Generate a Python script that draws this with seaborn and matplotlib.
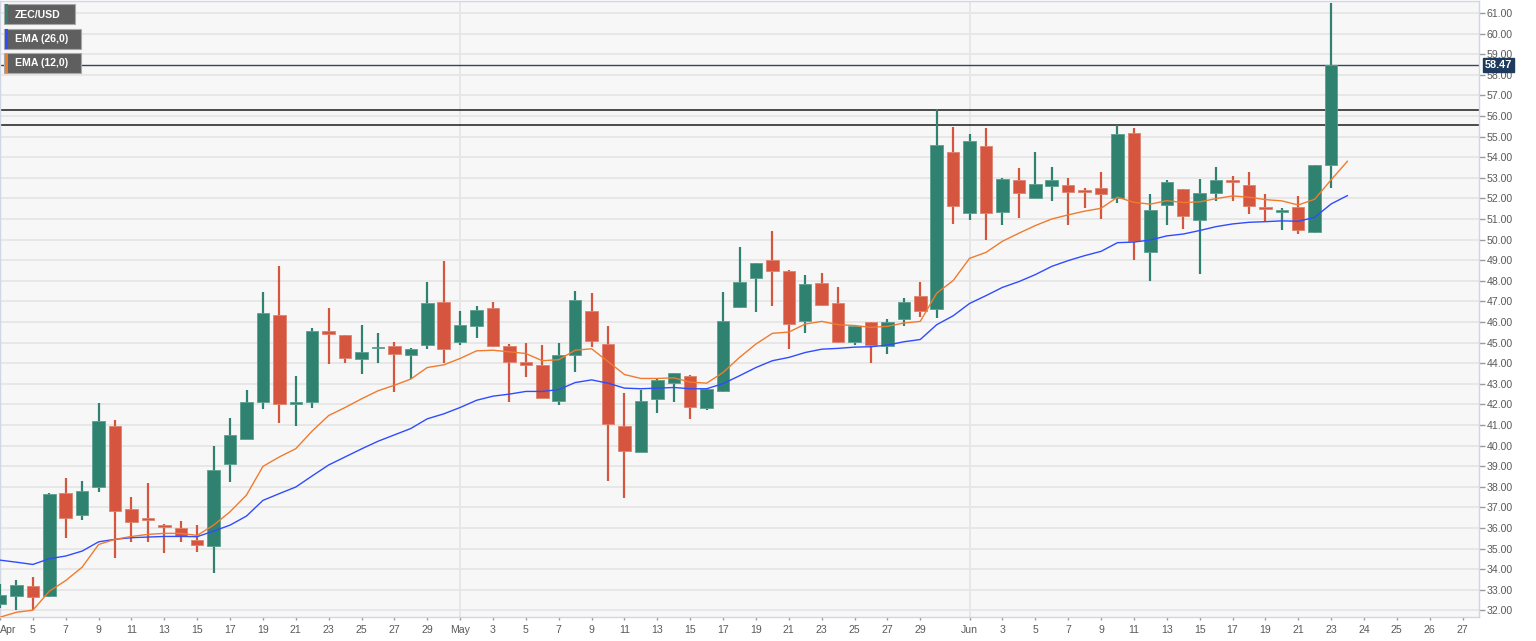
import numpy as np
import pandas as pd
import matplotlib
matplotlib.use("Agg")
import matplotlib.pyplot as plt
from matplotlib.patches import Rectangle
import seaborn as sns

# ---------------- data ----------------
dates = pd.date_range("2020-04-03", "2020-06-23", freq="D").strftime("%b %d").tolist()

opens = [32.33, 32.71, 33.18, 32.68, 37.68, 36.61, 37.99, 40.96, 36.90, 36.42,
         36.13, 36.00, 35.40, 35.15, 39.09, 40.32, 42.14, 46.33, 42.03, 42.14,
         45.56, 45.35, 44.20, 44.72, 44.83, 44.39, 44.86, 46.98, 45.02, 45.80,
         46.68, 44.85, 44.08, 43.89, 42.17, 44.42, 46.51, 44.93, 40.94, 39.71,
         42.25, 43.03, 43.40, 41.82, 42.63, 46.74, 48.13, 49.00, 48.48, 46.03,
         47.89, 46.92, 45.02, 45.98, 44.85, 46.14, 47.28, 46.63, 54.24, 51.30,
         54.52, 51.36, 52.90, 52.04, 52.59, 52.66, 52.38, 52.49, 52.01, 55.18,
         49.42, 51.70, 52.46, 50.95, 52.27, 52.90, 52.66, 51.60, 51.34, 51.59,
         50.36, 53.63]
highs = [33.29, 33.48, 33.62, 37.70, 38.43, 38.27, 42.06, 41.25, 37.50, 38.17,
         36.21, 36.32, 36.16, 40.00, 41.35, 42.71, 47.44, 48.72, 43.40, 45.69,
         46.70, 45.37, 45.87, 45.48, 45.02, 44.73, 47.96, 48.98, 46.54, 46.79,
         46.95, 44.93, 44.97, 44.89, 44.97, 47.52, 47.39, 45.82, 42.53, 42.71,
         43.27, 43.52, 43.44, 42.82, 47.47, 49.66, 48.88, 50.42, 48.50, 48.30,
         48.39, 47.71, 45.85, 46.00, 46.14, 47.18, 47.96, 56.32, 55.49, 55.14,
         55.40, 53.00, 53.48, 54.23, 53.51, 52.98, 52.51, 53.30, 55.56, 55.40,
         52.22, 52.87, 52.48, 52.95, 53.51, 53.08, 53.26, 52.22, 51.51, 52.12,
         53.63, 61.49]
lows = [32.10, 32.04, 32.03, 32.65, 35.51, 36.37, 37.73, 34.54, 35.33, 35.33,
        34.80, 35.33, 34.85, 33.83, 38.22, 40.30, 41.77, 41.10, 40.97, 41.83,
        43.95, 44.00, 43.47, 44.00, 42.59, 43.22, 44.70, 43.99, 44.88, 45.22,
        44.80, 42.12, 43.31, 42.30, 41.96, 43.56, 44.80, 38.27, 37.47, 39.70,
        41.59, 42.14, 41.28, 41.75, 42.60, 46.70, 46.48, 46.79, 44.67, 45.46,
        46.80, 45.00, 44.88, 44.00, 44.44, 45.79, 46.22, 46.17, 50.76, 50.95,
        50.00, 50.73, 51.03, 52.00, 51.89, 50.73, 51.51, 50.99, 51.76, 48.99,
        47.97, 50.73, 50.50, 48.33, 51.88, 51.88, 51.25, 50.89, 50.47, 50.27,
        50.34, 52.51]
closes = [32.77, 33.21, 32.66, 37.67, 36.48, 37.80, 41.17, 36.82, 36.30, 36.38,
          36.03, 35.59, 35.19, 38.80, 40.50, 42.11, 46.42, 42.04, 42.09, 45.54,
          45.43, 44.23, 44.52, 44.76, 44.47, 44.68, 46.92, 44.67, 45.87, 46.60,
          44.83, 44.08, 43.92, 42.33, 44.38, 47.08, 45.10, 41.04, 39.76, 42.17,
          43.18, 43.50, 41.85, 42.77, 46.03, 47.93, 48.85, 48.49, 45.90, 47.86,
          46.82, 45.02, 45.83, 44.88, 45.98, 46.95, 46.55, 54.60, 51.62, 54.81,
          51.31, 52.92, 52.27, 52.69, 52.87, 52.33, 52.33, 52.22, 55.14, 49.95,
          51.44, 52.79, 51.15, 52.25, 52.88, 52.79, 51.63, 51.50, 51.46, 50.45,
          53.61, 58.47]

ema12 = [31.67, 31.91, 32.01, 32.93, 33.45, 34.10, 35.20, 35.45, 35.59, 35.69,
         35.74, 35.74, 35.64, 36.14, 36.79, 37.60, 38.99, 39.45, 39.85, 40.71,
         41.46, 41.85, 42.27, 42.66, 42.93, 43.23, 43.79, 43.92, 44.23, 44.60,
         44.63, 44.55, 44.47, 44.12, 44.17, 44.63, 44.70, 44.08, 43.45, 43.26,
         43.26, 43.29, 43.08, 43.03, 43.55, 44.28, 44.93, 45.45, 45.51, 45.90,
         46.03, 45.87, 45.83, 45.74, 45.79, 45.95, 46.03, 47.40, 48.01, 49.09,
         49.38, 49.92, 50.31, 50.68, 51.00, 51.20, 51.38, 51.52, 52.06, 51.81,
         51.72, 51.89, 51.80, 51.83, 51.99, 52.12, 52.06, 51.94, 51.88, 51.68,
         51.96, 52.90, 53.81]
ema26 = [34.44, 34.34, 34.23, 34.51, 34.64, 34.88, 35.33, 35.45, 35.53, 35.56,
         35.59, 35.59, 35.58, 35.85, 36.14, 36.58, 37.34, 37.67, 37.99, 38.53,
         39.06, 39.45, 39.84, 40.21, 40.52, 40.83, 41.30, 41.54, 41.85, 42.20,
         42.40, 42.50, 42.63, 42.63, 42.72, 43.06, 43.19, 43.03, 42.79, 42.76,
         42.79, 42.82, 42.76, 42.76, 43.01, 43.39, 43.79, 44.12, 44.28, 44.52,
         44.68, 44.72, 44.78, 44.80, 44.88, 45.04, 45.15, 45.87, 46.30, 46.90,
         47.28, 47.68, 47.96, 48.30, 48.70, 48.98, 49.22, 49.43, 49.85, 49.88,
         49.98, 50.18, 50.27, 50.44, 50.63, 50.76, 50.84, 50.87, 50.91, 50.89,
         51.08, 51.73, 52.14]

level_lines = [56.27, 55.57]
last_price = 58.47

tick_pos = [0, 2, 4, 6, 8, 10, 12, 14, 16, 18, 20, 22, 24, 26,
            28, 30, 32, 34, 36, 38, 40, 42, 44, 46, 48, 50, 52, 54, 56,
            59, 61, 63, 65, 67, 69, 71, 73, 75, 77, 79, 81,
            83, 85, 87, 89]
tick_labels = ["Apr", "5", "7", "9", "11", "13", "15", "17", "19", "21", "23", "25", "27", "29",
               "May", "3", "5", "7", "9", "11", "13", "15", "17", "19", "21", "23", "25", "27", "29",
               "Jun", "3", "5", "7", "9", "11", "13", "15", "17", "19", "21", "23",
               "24", "25", "26", "27"]
month_starts = [28, 59]
y_ticks = list(range(32, 62))

# ---------------- styling ----------------
sns.set_theme(style="white")
plt.rcParams["font.family"] = ["Liberation Sans", "DejaVu Sans"]

GREEN = "#2f8270"
RED = "#d5553f"
BLUE = "#2f4cff"
ORANGE = "#f07b2e"
GRID = "#e6e6e6"
AXCOL = "#cfd6e4"
TXT = "#5a5a5a"

W, H = 1536, 641
fig = plt.figure(figsize=(W / 100, H / 100), dpi=100)
fig.patch.set_facecolor("white")

left_px, right_px, top_px, bottom_px = 0, 1479, 1, 617.3
ax = fig.add_axes([left_px / W, 1 - bottom_px / H,
                   (right_px - left_px) / W, (bottom_px - top_px) / H])
ax.set_facecolor("#f7f7f7")

df = pd.DataFrame({"date": dates, "open": opens, "high": highs,
                   "low": lows, "close": closes})
df["idx"] = np.arange(len(df))
ema_df = pd.DataFrame({"idx": np.arange(len(ema12)), "ema12": ema12, "ema26": ema26})

# grid
for v in y_ticks:
    ax.axhline(v, color=GRID, lw=1.3, zorder=0)
for m in month_starts:
    ax.axvline(m, color=GRID, lw=1.3, zorder=0)

# level lines
for lv in level_lines:
    ax.axhline(lv, color="#1c1c1c", lw=1.1, zorder=1)
ax.axhline(last_price, color="#34475c", lw=1.0, zorder=1)

# candles
up = df["close"] >= df["open"]
colors = np.where(up, GREEN, RED)
edge = np.where(up, "#5d9f90", "#e0836f")
ax.vlines(df["idx"], df["low"], df["high"], colors=colors, lw=1.6, zorder=3)
body_lo = np.minimum(df["open"], df["close"])
body_h = np.maximum(np.abs(df["close"] - df["open"]), 0.09)
ax.bar(df["idx"], body_h, bottom=body_lo, width=0.76, color=colors,
       edgecolor=edge, linewidth=0.6, zorder=4)

# EMAs (seaborn)
sns.lineplot(data=ema_df, x="idx", y="ema26", color=BLUE, lw=1.0, ax=ax, zorder=5)
sns.lineplot(data=ema_df, x="idx", y="ema12", color=ORANGE, lw=1.0, ax=ax, zorder=5)

# axes limits & ticks
ax.set_xlim(0, 90.0)
ymin = 61 - (bottom_px - 13) / 20.6
ymax = 61 + (13 - top_px) / 20.6
ax.set_ylim(ymin, ymax)
ax.set_xlabel("")
ax.set_ylabel("")

ax.yaxis.tick_right()
ax.set_yticks(y_ticks)
ax.set_yticklabels([f"{v:.2f}" for v in y_ticks])
ax.set_xticks(tick_pos)
ax.set_xticklabels(tick_labels)
ax.tick_params(axis="y", which="both", right=True, left=False, length=4, width=1,
               color="#9a9a9a", labelcolor=TXT, labelsize=7.6, pad=1.5)
ax.tick_params(axis="x", which="both", bottom=True, length=2.5, width=1,
               color="#9a9a9a", labelcolor=TXT, labelsize=7.6, pad=3)
ax.get_xticklabels()[0].set_horizontalalignment("left")

for s in ax.spines.values():
    s.set_color(AXCOL)
    s.set_linewidth(1.0)

# current price label
ax.annotate(f"{last_price:.2f}", xy=(1.0, last_price), xycoords=("axes fraction", "data"),
            xytext=(4, 0), textcoords="offset points", ha="left", va="center",
            color="white", fontsize=7.8, fontweight="bold", annotation_clip=False,
            bbox=dict(boxstyle="square,pad=0.18", fc="#1e3a5c", ec="#1e3a5c"), zorder=10)

# legend boxes (top-left)
def fx(px):
    return px / W

def fy(py):
    return 1 - py / H

legend_items = [("ZEC/USD", GREEN, 4, 4, 71), ("EMA (26,0)", BLUE, 4, 29, 77),
                ("EMA (12,0)", ORANGE, 4, 53, 77)]
for label, col, x0, y0, wpx in legend_items:
    hpx = 20
    fig.patches.append(Rectangle((fx(x0), fy(y0 + hpx)), fx(wpx), hpx / H,
                                 transform=fig.transFigure, fc="#5f5f5f", ec="#a8a8a8",
                                 lw=0.8, zorder=20))
    fig.patches.append(Rectangle((fx(x0 + 0.5), fy(y0 + hpx - 0.5)), fx(3), (hpx - 1) / H,
                                 transform=fig.transFigure, fc=col, ec="none", zorder=21))
    fig.text(fx(x0 + 11), fy(y0 + hpx / 2 + 0.5), label, color="white", fontsize=7.6,
             fontweight="bold", ha="left", va="center", zorder=22)

fig.savefig("out.png", dpi=100, facecolor=fig.get_facecolor())
